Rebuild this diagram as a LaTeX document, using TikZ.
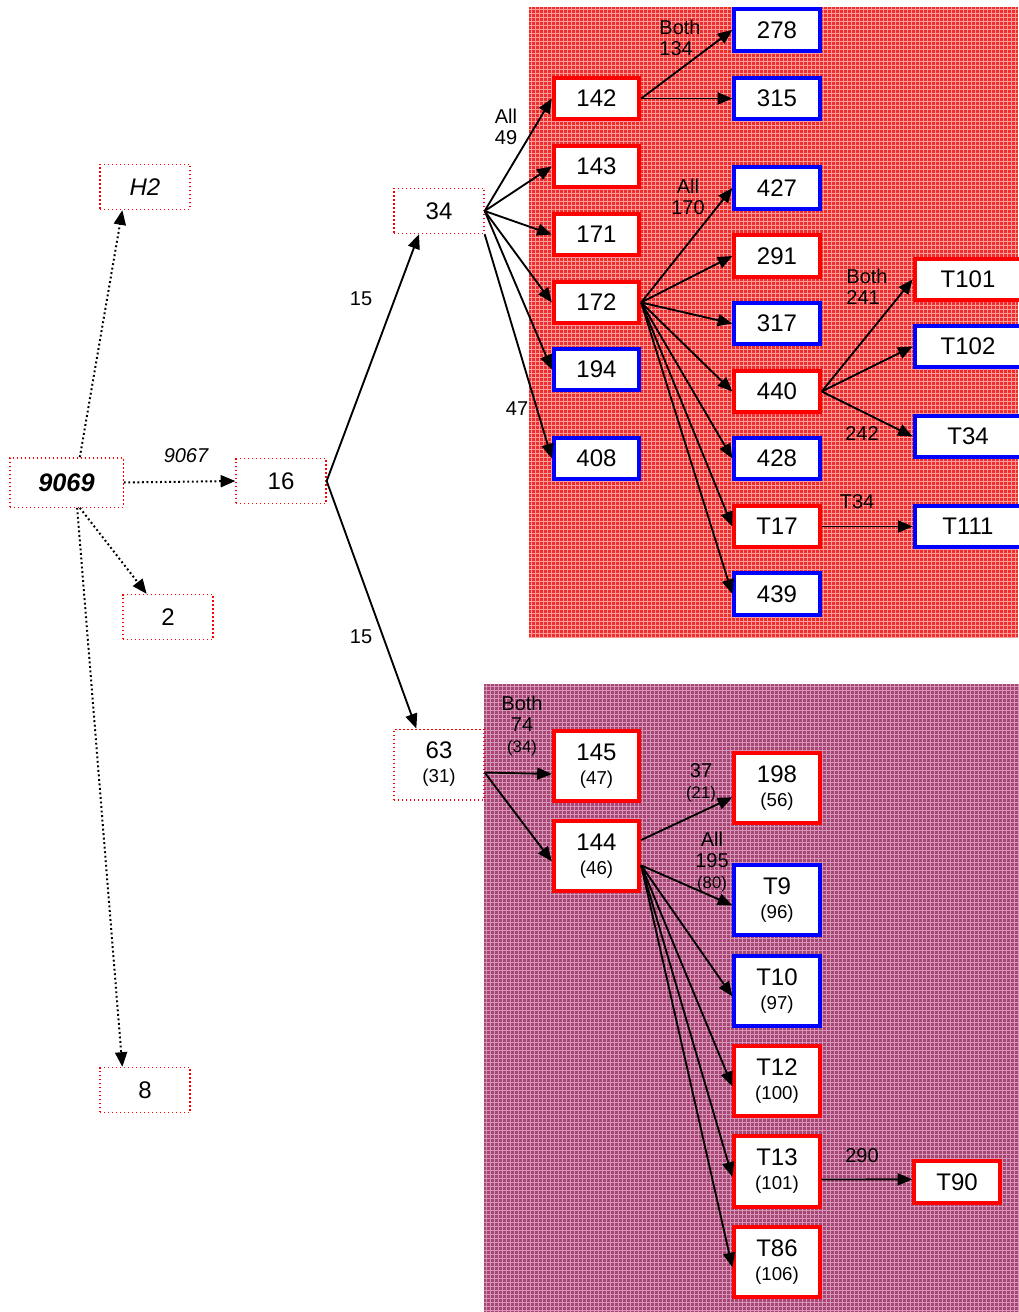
\documentclass[tikz,border=0pt]{standalone}
\usepackage{fontspec}
\setmainfont{Liberation Sans}
\usetikzlibrary{arrows.meta}
\definecolor{redbg}{RGB}{238,45,45}
\definecolor{redgrid}{RGB}{255,155,155}
\definecolor{pinkbg}{RGB}{165,70,115}
\definecolor{pinkgrid}{RGB}{215,150,185}
\definecolor{boxred}{RGB}{255,0,0}
\definecolor{boxblue}{RGB}{0,0,255}
\newcommand\subtext{\fontsize{14}{16}\selectfont}
\newcommand\paren{\fontsize{12.5}{14}\selectfont}
\begin{document}
\begin{tikzpicture}[x=0.75pt,y=-0.75pt,
  every node/.style={inner sep=0pt},
  bigtext/.style={font=\fontsize{18}{20}\selectfont},
  dotbox/.style={bigtext, draw=boxred, dotted, line width=1pt, fill=white,
    minimum width=67.5pt, minimum height=33.75pt, align=center},
  redbox/.style={bigtext, draw=boxred, line width=3pt, fill=white,
    minimum width=64pt, minimum height=31pt, align=center},
  bluebox/.style={redbox, draw=boxblue},
  tallbox/.style={minimum height=53pt},
  widebox/.style={minimum width=80pt},
  link/.style={-{Triangle[length=11pt,width=9pt]}, line width=1.4pt},
  dotlink/.style={link, dotted, line width=1.5pt},
  lbl/.style={font=\fontsize{15}{16}\selectfont, align=center},
  lbll/.style={lbl, align=left},
]
\useasboundingbox (0,0) rectangle (1018,1312);

% textured backgrounds
\fill[redbg] (529,7) rectangle (1018,638);
\foreach \x in {531,535,...,1018} \draw[redgrid, line width=0.35pt] (\x,7) -- (\x,638);
\foreach \y in {9,13,...,638} \draw[redgrid, line width=0.35pt] (529,\y) -- (1018,\y);
\fill[pinkbg] (484,684) rectangle (1018,1312);
\foreach \x in {486,490,...,1018} \draw[pinkgrid, line width=0.35pt] (\x,684) -- (\x,1312);
\foreach \y in {686,690,...,1312} \draw[pinkgrid, line width=0.35pt] (484,\y) -- (1018,\y);

% left part
\node[dotbox, font=\fontsize{18}{20}\selectfont\itshape] (H2) at (145,187) {H2};
\node[dotbox, minimum width=85pt, minimum height=37pt,
      font=\fontsize{19}{21}\selectfont\bfseries\itshape] (n9069) at (66.5,482.5) {9069};
\node[dotbox] (n16) at (281,481) {16};
\node[dotbox] (n2) at (168,617) {2};
\node[dotbox] (n8) at (145,1090) {8};
\node[dotbox] (n34) at (439,211) {34};
\node[dotbox, tallbox] (n63) at (439,764.5) {63\\[-2pt]{\subtext (31)}};

% red region
\node[redbox]  (n142) at (596.5,98.5) {142};
\node[redbox]  (n143) at (596.5,166.5) {143};
\node[redbox]  (n171) at (596.5,234.5) {171};
\node[redbox]  (n172) at (596.5,302.5) {172};
\node[bluebox] (n194) at (596.5,369.5) {194};
\node[bluebox] (n408) at (596.5,458.5) {408};

\node[bluebox] (n278) at (777,30) {278};
\node[bluebox] (n315) at (777,98.5) {315};
\node[bluebox] (n427) at (777,188) {427};
\node[redbox]  (n291) at (777,256) {291};
\node[bluebox] (n317) at (777,323.5) {317};
\node[redbox]  (n440) at (777,391.5) {440};
\node[bluebox] (n428) at (777,458.5) {428};
\node[redbox]  (nT17) at (777,526.5) {T17};
\node[bluebox] (n439) at (777,594) {439};

\node[redbox,  widebox] (nT101) at (968,279.5) {T101};
\node[bluebox, widebox] (nT102) at (968,346.5) {T102};
\node[bluebox, widebox] (nT34)  at (968,436.5) {T34};
\node[bluebox, widebox] (nT111) at (968,526.5) {T111};

% pink region
\node[redbox, tallbox]  (n145) at (596.5,766) {145\\[-2pt]{\subtext (47)}};
\node[redbox, tallbox]  (n144) at (596.5,856) {144\\[-2pt]{\subtext (46)}};
\node[redbox, tallbox]  (n198) at (777,788) {198\\[-2pt]{\subtext (56)}};
\node[bluebox, tallbox] (nT9)  at (777,900) {T9\\[-2pt]{\subtext (96)}};
\node[bluebox, tallbox] (nT10) at (777,991) {T10\\[-2pt]{\subtext (97)}};
\node[redbox, tallbox]  (nT12) at (777,1081) {T12\\[-2pt]{\subtext (100)}};
\node[redbox, tallbox]  (nT13) at (777,1171.5) {T13\\[-2pt]{\subtext (101)}};
\node[redbox, tallbox]  (nT86) at (777,1262) {T86\\[-2pt]{\subtext (106)}};
\node[redbox] (nT90) at (957,1182) {T90};

% dotted links from the root
\draw[dotlink] ([xshift=10pt]n9069.north) -- ([xshift=-17pt]H2.south);
\draw[dotlink] (n9069.east) -- (n16.west);
\draw[dotlink] ([xshift=10pt]n9069.south) -- ([xshift=-16pt]n2.north);
\draw[dotlink] ([xshift=8pt]n9069.south) -- ([xshift=-17pt]n8.north);

% solid links
\draw[link] (n16.east) -- ([xshift=-15pt]n34.south);
\draw[link] (n16.east) -- ([xshift=-17pt]n63.north);

\foreach \t in {n142,n143,n171,n172,n194}
  \draw[link] (n34.east) -- (\t.west);
\draw[link] (n34.south east) -- (n408.west);

\draw[link] (n142.east) -- (n278.west);
\draw[link] (n142.east) -- (n315.west);

\foreach \t in {n427,n291,n317,n440,n428,nT17,n439}
  \draw[link] (n172.east) -- (\t.west);

\foreach \t in {nT101,nT102,nT34}
  \draw[link] (n440.east) -- (\t.west);
\draw[link] (nT17.east) -- (nT111.west);

\draw[link] ([yshift=-6pt]n63.east) -- ([yshift=-6pt]n145.west);
\draw[link] ([yshift=-6pt]n63.east) -- ([yshift=-4pt]n144.west);
\draw[link] ([yshift=12pt]n144.east) -- ([yshift=-7pt]n198.west);
\foreach \t in {nT9,nT10,nT12,nT13,nT86}
  \draw[link] ([yshift=-7pt]n144.east) -- ([yshift=-4pt]\t.west);
\draw[link] ([yshift=-6pt]nT13.east) -- ([yshift=2pt]nT90.west);

% link labels
\node[lbl, font=\fontsize{15}{16}\selectfont\itshape] (l9067) at (186,456) {9067};
\node[lbl] (l15a) at (361,299) {15};
\node[lbl] (l15b) at (361,637) {15};
\node[lbl] (l49) at (506,127) {All\\49};
\node[lbl] (l47) at (517,409) {47};
\node[lbll] (l134) at (680,38) {Both\\134};
\node[lbl] (l170) at (688,197) {All\\170};
\node[lbll] (l241) at (867,287) {Both\\241};
\node[lbl] (l242) at (862,434) {242};
\node[lbl] (lT34) at (857,502) {T34};
\node[lbl] (l74) at (522,726) {Both\\74\\{\paren (34)}};
\node[lbl] (l37) at (701,783) {37\\{\paren (21)}};
\node[lbl] (l195) at (712,862) {All\\195\\{\paren (80)}};
\node[lbl] (l290) at (862,1156) {290};
\end{tikzpicture}
\end{document}
